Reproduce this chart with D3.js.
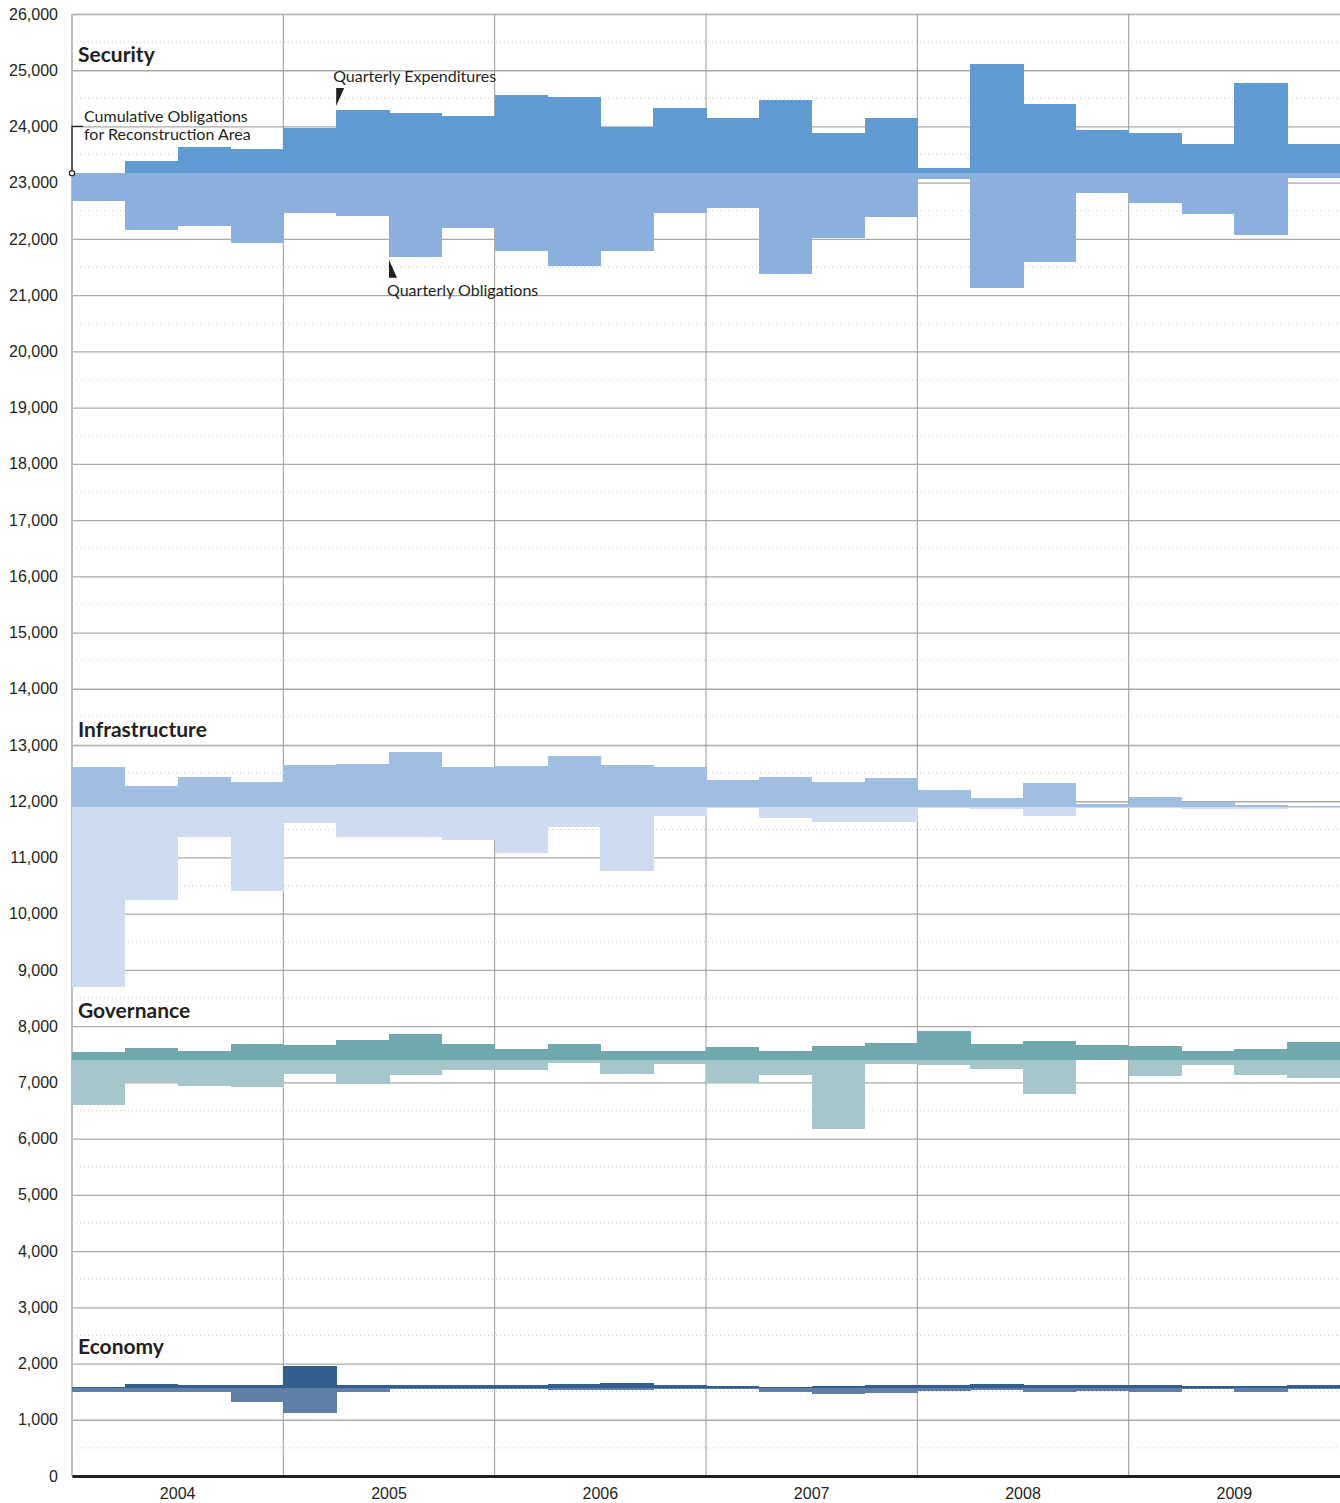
<!DOCTYPE html>
<html>
<head>
<meta charset="utf-8">
<script src="https://cdn.jsdelivr.net/npm/d3@7"></script>
<style>
  body { margin: 0; background: #fff; }
  svg { display: block; font-family: Lato, "Open Sans", sans-serif; }
</style>
</head>
<body>
<svg id="chart" width="1340" height="1503"></svg>
<script>

// quarters 2004 Q1 .. 2009 Q4
const years = ["2004", "2005", "2006", "2007", "2008", "2009"];
const quarters = years.flatMap(y => ["Q1", "Q2", "Q3", "Q4"].map(q => y + q));

const yTicks = [0, 1000, 2000, 3000, 4000, 5000, 6000, 7000, 8000, 9000, 10000, 11000, 12000, 13000,
                14000, 15000, 16000, 17000, 18000, 19000, 20000, 21000, 22000, 23000, 24000, 25000, 26000];
const yHalfTicks = [500, 1500, 2500, 3500, 4500, 5500, 6500, 7500, 8500, 9500, 10500, 11500, 12500,
                    13500, 14500, 15500, 16500, 17500, 18500, 19500, 20500, 21500, 22500, 23500, 24500, 25500];

const categories = ["Security", "Infrastructure", "Governance", "Economy"];
// cumulative obligations level for each area (baseline)
const baselines = [23170, 11890, 7400, 1570];
// where the area title sits (in chart units)
const titleLevels = [25150, 13140, 8150, 2170];

// quarterly expenditures (drawn above the baseline)
const securityExp = [8, 211, 461, 425, 806, 1122, 1062, 1014, 1389, 1354, 812, 1157,
                     979, 1300, 711, 979, 86, 1943, 1229, 764, 711, 514, 1604, 514];
const infrastructureExp = [726, 375, 536, 452, 750, 768, 982, 714, 732, 911, 750, 714,
                           482, 536, 446, 518, 303, 161, 428, 53, 178, 95, 36, 18];
const governanceExp = [142, 213, 160, 285, 267, 357, 464, 285, 196, 285, 160, 160,
                       232, 160, 250, 303, 518, 285, 339, 267, 250, 160, 196, 321];
const economyExp = [8, 66, 42, 42, 387, 42, 42, 42, 42, 66, 84, 42,
                    24, 6, 24, 42, 42, 66, 42, 42, 42, 24, 24, 42];

// quarterly obligations (drawn below the baseline)
const securityObl = [488, 1018, 935, 1250, 715, 756, 1488, 971, 1393, 1649, 1393, 715,
                     613, 1786, 1149, 774, 113, 2036, 1572, 346, 524, 721, 1107, 90];
const infrastructureObl = [3190, 1643, 518, 1494, 286, 518, 530, 572, 804, 357, 1125, 161,
                           10, 197, 268, 268, 12, 36, 161, 5, 5, 36, 36, 18];
const governanceObl = [798, 399, 464, 482, 250, 429, 268, 179, 179, 54, 250, 72,
                       405, 268, 1232, 72, 89, 161, 607, 0, 286, 89, 268, 322];
const economyObl = [71, 71, 71, 250, 446, 71, 17, 17, 17, 41, 41, 29,
                    29, 71, 107, 89, 53, 41, 71, 53, 71, 17, 71, 17];

const expSeries = [securityExp, infrastructureExp, governanceExp, economyExp];
const oblSeries = [securityObl, infrastructureObl, governanceObl, economyObl];

const expColors = ["#5f9ad2", "#a0bde2", "#71a8ad", "#325e8d"];
const oblColors = ["#8cb0dd", "#cfdbf0", "#a5c6ca", "#607fa8"];

const ink = "#231f20";
const plotLeft = 72, plotRight = 1340, plotTop = 14, plotBottom = 1476;

const svg = d3.select("#chart");

// scales
const x = d3.scaleBand().domain(quarters).range([plotLeft, plotRight]).padding(0);
const xYear = d3.scaleBand().domain(years).range([plotLeft, plotRight]).padding(0);
const y = d3.scaleLinear().domain([0, 26000]).range([plotBottom, plotTop]);

// dotted half gridlines
svg.append("g").selectAll("line")
    .data(yHalfTicks)
    .enter().append("line")
    .attr("x1", plotLeft).attr("x2", plotRight)
    .attr("y1", d => y(d)).attr("y2", d => y(d))
    .attr("stroke", "#c4c4c4")
    .attr("stroke-width", 1)
    .attr("stroke-dasharray", "1,3");

// solid gridlines + labels via axis
const yAxis = svg.append("g")
    .attr("transform", "translate(" + plotLeft + ",0)")
    .call(d3.axisLeft(y)
        .tickValues(yTicks)
        .tickSize(-(plotRight - plotLeft))
        .tickPadding(14)
        .tickFormat(d3.format(",")));
yAxis.select(".domain").remove();
yAxis.selectAll(".tick line")
    .attr("stroke", "#aaaaaa")
    .attr("stroke-width", 1.3);
yAxis.selectAll(".tick text")
    .attr("fill", ink)
    .style("font-size", "16px");

// year separators
svg.append("g").selectAll("line")
    .data(years.slice(1))
    .enter().append("line")
    .attr("x1", d => xYear(d)).attr("x2", d => xYear(d))
    .attr("y1", plotTop).attr("y2", plotBottom)
    .attr("stroke", "#9a9a9a")
    .attr("stroke-width", 1);

// left border
svg.append("line")
    .attr("x1", plotLeft).attr("x2", plotLeft)
    .attr("y1", plotTop).attr("y2", plotBottom)
    .attr("stroke", "#bdbdbd")
    .attr("stroke-width", 2);

// bars
categories.forEach((cat, i) => {
    const base = baselines[i];
    const g = svg.append("g").attr("shape-rendering", "crispEdges");

    g.selectAll("rect.obl")
        .data(oblSeries[i])
        .enter().append("rect")
        .attr("class", "obl")
        .attr("x", (d, j) => x(quarters[j]))
        .attr("width", x.bandwidth() + 0.5)
        .attr("y", y(base))
        .attr("height", d => y(base - d) - y(base))
        .attr("fill", oblColors[i]);

    g.selectAll("rect.exp")
        .data(expSeries[i])
        .enter().append("rect")
        .attr("class", "exp")
        .attr("x", (d, j) => x(quarters[j]))
        .attr("width", x.bandwidth() + 0.5)
        .attr("y", d => y(base + d))
        .attr("height", d => y(base) - y(base + d))
        .attr("fill", expColors[i]);

    svg.append("text")
        .attr("x", plotLeft + 6)
        .attr("y", y(titleLevels[i]))
        .attr("fill", ink)
        .style("font-size", "21px")
        .style("font-weight", "bold")
        .text(cat);
});

// bottom axis with year labels
const xAxis = svg.append("g")
    .attr("transform", "translate(0," + plotBottom + ")")
    .call(d3.axisBottom(xYear).tickSize(0).tickPadding(12));
xAxis.select(".domain")
    .attr("stroke", ink)
    .attr("stroke-width", 3);
xAxis.selectAll(".tick text")
    .attr("fill", ink)
    .style("font-size", "16px");

// annotations
const ann = svg.append("g").attr("fill", ink).style("font-size", "16px");

// cumulative obligations bracket
const bx = plotLeft, by = y(baselines[0]);
ann.append("path")
    .attr("d", "M" + bx + "," + by + "V" + y(24000) + "H" + (bx + 11))
    .attr("fill", "none")
    .attr("stroke", ink)
    .attr("stroke-width", 1.2);
ann.append("circle")
    .attr("cx", bx).attr("cy", by).attr("r", 2.6)
    .attr("fill", "#fff")
    .attr("stroke", ink)
    .attr("stroke-width", 1.2);
ann.append("text").attr("x", bx + 12).attr("y", y(24000) - 4).text("Cumulative Obligations");
ann.append("text").attr("x", bx + 12).attr("y", y(24000) + 14).text("for Reconstruction Area");

// quarterly expenditures pointer (2005 Q2)
const ex = x("2005Q2"), ey = y(baselines[0] + securityExp[5]);
ann.append("path")
    .attr("d", "M" + ex + "," + (ey - 22) + "H" + (ex + 8) + "L" + ex + "," + (ey - 4) + "Z");
ann.append("text").attr("x", ex - 3).attr("y", ey - 28).text("Quarterly Expenditures");

// quarterly obligations pointer (2005 Q3)
const ox = x("2005Q3"), oy = y(baselines[0] - securityObl[6]);
ann.append("path")
    .attr("d", "M" + ox + "," + (oy + 3) + "V" + (oy + 21) + "H" + (ox + 8) + "Z");
ann.append("text").attr("x", ox - 2).attr("y", oy + 39).text("Quarterly Obligations");

</script>
</body>
</html>
